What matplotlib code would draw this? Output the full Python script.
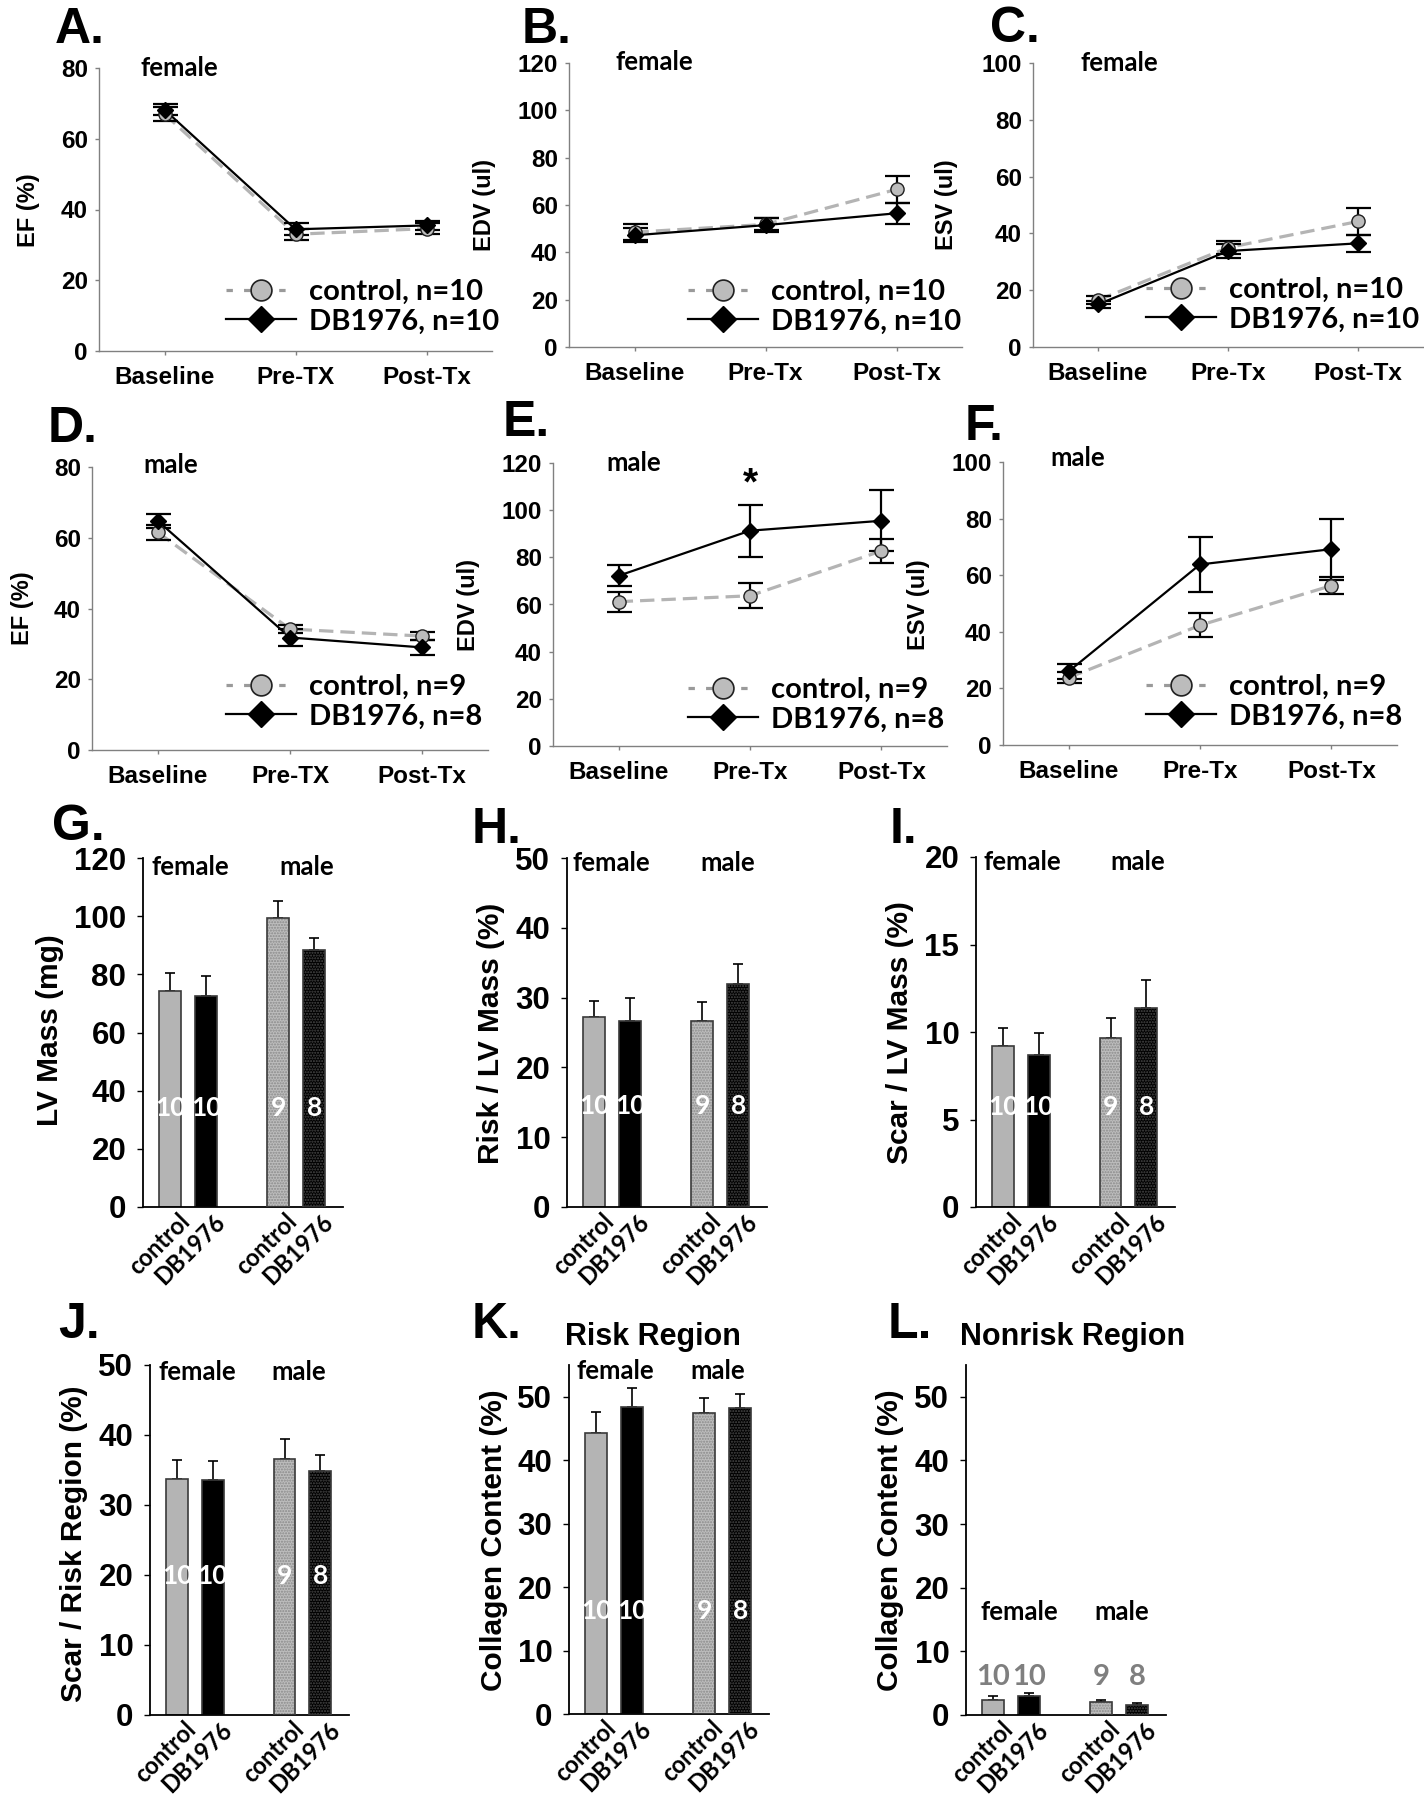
import matplotlib
matplotlib.use("Agg")
import matplotlib.pyplot as plt
from matplotlib.lines import Line2D

W, H = 1424, 1800
ARIAL = "Liberation Sans"
CAL = "Lato"

# ---- line panel data (mean, SEM) ----
timepoints_a = ["Baseline", "Pre-TX", "Post-Tx"]
timepoints_b = ["Baseline", "Pre-Tx", "Post-Tx"]

ef_f_ctrl = [67.0, 33.0, 34.6]
ef_f_ctrl_err = [2.0, 1.5, 1.5]
ef_f_db = [68.2, 34.4, 35.5]
ef_f_db_err = [1.5, 1.7, 1.2]

edv_f_ctrl = [48.5, 51.8, 66.6]
edv_f_ctrl_err = [3.5, 2.5, 5.8]
edv_f_db = [47.2, 51.5, 56.5]
edv_f_db_err = [3.0, 2.8, 4.5]

esv_f_ctrl = [16.5, 35.0, 44.2]
esv_f_ctrl_err = [1.5, 2.2, 4.6]
esv_f_db = [15.0, 33.8, 36.5]
esv_f_db_err = [1.2, 2.3, 3.0]

ef_m_ctrl = [61.5, 34.2, 32.2]
ef_m_ctrl_err = [2.0, 1.0, 1.2]
ef_m_db = [64.7, 31.8, 29.0]
ef_m_db_err = [2.0, 2.3, 2.2]

edv_m_ctrl = [61.2, 63.7, 82.7]
edv_m_ctrl_err = [4.2, 5.3, 5.0]
edv_m_db = [72.2, 91.3, 95.5]
edv_m_db_err = [4.5, 11.0, 12.9]

esv_m_ctrl = [23.8, 42.3, 56.3]
esv_m_ctrl_err = [2.0, 4.2, 3.0]
esv_m_db = [26.0, 63.8, 69.2]
esv_m_db_err = [2.6, 9.8, 10.8]

# ---- bar panel data ----
bar_labels = ["control", "DB1976", "control", "DB1976"]
bar_n = ["10", "10", "9", "8"]
bar_pos = [0, 1, 3, 4]

lv_mass = [74.4, 72.7, 99.5, 88.4]
lv_mass_err = [6.2, 6.6, 5.6, 4.1]
risk_lv = [27.2, 26.6, 26.6, 32.0]
risk_lv_err = [2.3, 3.3, 2.7, 2.8]
scar_lv = [9.2, 8.66, 9.64, 11.39]
scar_lv_err = [1.05, 1.28, 1.16, 1.59]
scar_risk = [33.7, 33.6, 36.6, 34.9]
scar_risk_err = [2.7, 2.7, 2.8, 2.3]
coll_risk = [44.3, 48.4, 47.5, 48.2]
coll_risk_err = [3.3, 2.9, 2.3, 2.3]
coll_nonrisk = [2.36, 3.0, 2.0, 1.57]
coll_nonrisk_err = [0.55, 0.45, 0.36, 0.25]

fig = plt.figure(figsize=(W / 100, H / 100), dpi=100)


def fx(px):
    return px / W


def fy(py):
    return 1 - py / H


def add_ax(left, top, right, bottom):
    return fig.add_axes([fx(left), fy(bottom), (right - left) / W, (bottom - top) / H])


def letter(txt, x, y):
    fig.text(fx(x), fy(y), txt, fontsize=36, fontweight="bold", family=ARIAL, va="baseline")


def vlabel(txt, x, y, size):
    fig.text(fx(x), fy(y), txt, fontsize=size, fontweight="bold", family=ARIAL,
             rotation=90, ha="center", va="center")


def line_panel(box, ylim, yticks, ctrl, ctrl_err, db, db_err, cats, ylabel, ylab_xy,
               sex, sex_xy, n_ctrl, n_db, leg_xy):
    ax = add_ax(*box)
    x = [0, 1, 2]
    ax.plot(x, ctrl, color="#b4b4b4", lw=2.3, dashes=(4.5, 2.2), zorder=2)
    ax.plot(x, db, color="black", lw=1.6, zorder=3)
    ax.errorbar(x, ctrl, yerr=ctrl_err, fmt="none", ecolor="black", elinewidth=1.6,
                capsize=9, capthick=1.6, zorder=4)
    ax.errorbar(x, db, yerr=db_err, fmt="none", ecolor="black", elinewidth=1.6,
                capsize=9, capthick=1.6, zorder=4)
    ax.plot(x, ctrl, "o", ms=9.5, mfc="#bcbcbc", mec="#202020", mew=1.0, zorder=5)
    ax.plot(x, db, "D", ms=8, mfc="black", mec="black", zorder=6)
    ax.set_xlim(-0.5, 2.5)
    ax.set_ylim(*ylim)
    ax.set_yticks(yticks)
    ax.set_xticks(x)
    ax.set_xticklabels(cats)
    for s in ["top", "right"]:
        ax.spines[s].set_visible(False)
    for s in ["left", "bottom"]:
        ax.spines[s].set_color("#808080")
        ax.spines[s].set_linewidth(1.0)
    ax.tick_params(axis="both", colors="#808080", length=3, width=1, labelcolor="black")
    ax.tick_params(axis="y", pad=5, labelsize=17.5)
    ax.tick_params(axis="x", pad=8, labelsize=17.5)
    for t in ax.get_xticklabels() + ax.get_yticklabels():
        t.set_fontweight("bold")
        t.set_family(ARIAL)
    ax.patch.set_alpha(0)
    vlabel(ylabel, ylab_xy[0], ylab_xy[1], 17)
    fig.text(fx(sex_xy[0]), fy(sex_xy[1]), sex, fontsize=18.5, fontweight="bold",
             family=CAL, ha="center", va="center")
    handles = [
        Line2D([], [], color="#9a9a9a", lw=2.3, dashes=(2, 3.5), marker="o", ms=15,
               mfc="#bcbcbc", mec="#202020", mew=1.2),
        Line2D([], [], color="black", lw=1.6, marker="D", ms=13, mfc="black", mec="black"),
    ]
    ax.legend(handles, ["control, n=%s" % n_ctrl, "DB1976, n=%s" % n_db],
              loc="upper left", bbox_to_anchor=(fx(leg_xy[0]), fy(leg_xy[1])),
              bbox_transform=fig.transFigure, frameon=False, borderpad=0,
              borderaxespad=0, handlelength=2.4, handletextpad=0.45,
              labelspacing=0.12, prop={"family": CAL, "weight": "bold", "size": 21})
    return ax


def bar_panel(box, vals, errs, ylim, yticks, ylabel, ylab_xy, n_y, sex_y,
              sex_x=(0.55, 3.6), n_color="white", n_size=19):
    ax = add_ax(*box)
    edge = "#3a3a3a"
    ax.bar(bar_pos[0], vals[0], width=0.61, color="#b4b4b4", edgecolor=edge, lw=1.2, zorder=2)
    ax.bar(bar_pos[1], vals[1], width=0.61, color="black", edgecolor=edge, lw=1.2, zorder=2)
    ax.bar(bar_pos[2], vals[2], width=0.61, color="#bdbdbd", edgecolor="#8a8a8a",
           hatch="......", lw=0, zorder=2)
    ax.bar(bar_pos[3], vals[3], width=0.61, color="black", edgecolor="#4a4a4a",
           hatch="......", lw=0, zorder=2)
    ax.bar(bar_pos[2:], vals[2:], width=0.61, fill=False, edgecolor=edge, lw=1.2, zorder=3)
    ax.errorbar(bar_pos, vals, yerr=[[0] * 4, errs], fmt="none", ecolor="black",
                elinewidth=1.2, capsize=3.5, capthick=1.2, zorder=1)
    for p, n in zip(bar_pos, bar_n):
        ax.text(p, n_y, n, color=n_color, fontsize=n_size, fontweight="bold",
                family=CAL, ha="center", va="center", zorder=5)
    ax.text(sex_x[0], sex_y, "female", fontsize=18.5, fontweight="bold", family=CAL,
            ha="center", va="center")
    ax.text(sex_x[1], sex_y, "male", fontsize=18.5, fontweight="bold", family=CAL,
            ha="center", va="center")
    ax.set_xlim(-0.76, 4.8)
    ax.set_ylim(*ylim)
    ax.set_yticks(yticks)
    ax.set_xticks([p + 0.2 for p in bar_pos])
    ax.set_xticklabels(bar_labels, rotation=45, ha="right", rotation_mode="anchor")
    for s in ["top", "right"]:
        ax.spines[s].set_visible(False)
    for s in ["left", "bottom"]:
        ax.spines[s].set_linewidth(1.3)
    ax.tick_params(axis="y", length=4, width=1, pad=8, labelsize=22.5)
    ax.tick_params(axis="x", length=0, pad=2, labelsize=17)
    for t in ax.get_yticklabels():
        t.set_fontweight("bold")
        t.set_family(ARIAL)
    for t in ax.get_xticklabels():
        t.set_fontweight("bold")
        t.set_family(CAL)
    ax.patch.set_alpha(0)
    vlabel(ylabel, ylab_xy[0], ylab_xy[1], 21.5)
    return ax


# ---- top row: female ----
line_panel((99, 68, 492, 351), (0, 80), [0, 20, 40, 60, 80], ef_f_ctrl, ef_f_ctrl_err,
           ef_f_db, ef_f_db_err, timepoints_a, "EF (%)", (28, 210), "female", (179, 68),
           "10", "10", (226, 279))
line_panel((569, 63, 962, 347), (0, 120), [0, 20, 40, 60, 80, 100, 120], edv_f_ctrl,
           edv_f_ctrl_err, edv_f_db, edv_f_db_err, timepoints_b, "EDV (ul)", (485, 205),
           "female", (654, 62), "10", "10", (688, 279))
line_panel((1033, 63, 1423, 347), (0, 100), [0, 20, 40, 60, 80, 100], esv_f_ctrl,
           esv_f_ctrl_err, esv_f_db, esv_f_db_err, timepoints_b, "ESV (ul)", (947, 205),
           "female", (1119, 63), "10", "10", (1146, 277))

# ---- second row: male ----
line_panel((92, 467, 488, 750), (0, 80), [0, 20, 40, 60, 80], ef_m_ctrl, ef_m_ctrl_err,
           ef_m_db, ef_m_db_err, timepoints_a, "EF (%)", (23, 608), "male", (171, 465),
           "9", "8", (226, 674))
axE = line_panel((553, 463, 947, 746), (0, 120), [0, 20, 40, 60, 80, 100, 120], edv_m_ctrl,
                 edv_m_ctrl_err, edv_m_db, edv_m_db_err, timepoints_b, "EDV (ul)", (469, 605),
                 "male", (634, 463), "9", "8", (688, 677))
axE.text(1, 111, "*", fontsize=28, fontweight="bold", family=ARIAL, ha="center", va="center")
line_panel((1003, 462, 1397, 745), (0, 100), [0, 20, 40, 60, 80, 100], esv_m_ctrl,
           esv_m_ctrl_err, esv_m_db, esv_m_db_err, timepoints_b, "ESV (ul)", (919, 605),
           "male", (1078, 458), "9", "8", (1146, 674))

# ---- bar rows ----
bar_panel((143, 858, 343, 1207), lv_mass, lv_mass_err, (0, 120), [0, 20, 40, 60, 80, 100, 120],
          "LV Mass (mg)", (50, 1030), 34, 117, sex_x=(0.56, 3.78))
bar_panel((567, 858, 767, 1207), risk_lv, risk_lv_err, (0, 50), [0, 10, 20, 30, 40, 50],
          "Risk / LV Mass (%)", (491, 1033), 14.4, 49.3, sex_x=(0.48, 3.72))
bar_panel((976, 857, 1175, 1207), scar_lv, scar_lv_err, (0, 20), [0, 5, 10, 15, 20],
          "Scar / LV Mass (%)", (900, 1033), 5.7, 19.7, sex_x=(0.53, 3.75))
bar_panel((150, 1365, 349, 1715), scar_risk, scar_risk_err, (0, 50), [0, 10, 20, 30, 40, 50],
          "Scar / Risk Region (%)", (74, 1544), 19.8, 49.0, sex_x=(0.55, 3.39))
bar_panel((569, 1365, 769, 1714), coll_risk, coll_risk_err, (0, 55), [0, 10, 20, 30, 40, 50],
          "Collagen Content (%)", (494, 1540), 16.2, 54.0, sex_x=(0.53, 3.36))
bar_panel((966, 1365, 1166, 1715), coll_nonrisk, coll_nonrisk_err, (0, 55),
          [0, 10, 20, 30, 40, 50], "Collagen Content (%)", (890, 1540), 6.0, 16.2,
          sex_x=(0.72, 3.58), n_color="#7f7f7f", n_size=21)

fig.text(fx(653), fy(1337), "Risk Region", fontsize=22, fontweight="bold", family=ARIAL,
         ha="center", va="center")
fig.text(fx(1073), fy(1337), "Nonrisk Region", fontsize=22, fontweight="bold", family=ARIAL,
         ha="center", va="center")

# panel letters
letter("A.", 55, 43)
letter("B.", 522, 43)
letter("C.", 990, 42)
letter("D.", 48, 442)
letter("E.", 503, 436)
letter("F.", 965, 440)
letter("G.", 52, 840)
letter("H.", 472, 843)
letter("I.", 890, 843)
letter("J.", 58, 1338)
letter("K.", 472, 1338)
letter("L.", 888, 1338)

fig.savefig("out.png", dpi=100)
